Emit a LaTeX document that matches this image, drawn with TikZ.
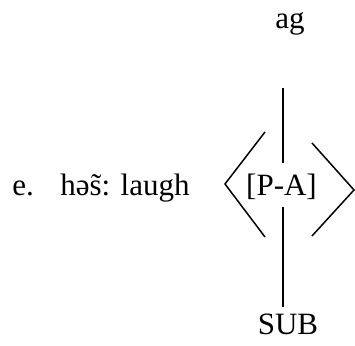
\documentclass[tikz,border=0pt]{standalone}
\usepackage{fontspec}
\setmainfont{Liberation Serif}
\begin{document}
\begin{tikzpicture}[x=0.5pt,y=-0.5pt,
  lbl/.style={inner sep=0pt,font=\fontsize{15.5}{18}\selectfont},
  ln/.style={line width=0.75pt,black},
  brk/.style={line width=0.75pt,black,line join=miter}]
\useasboundingbox (0,0) rectangle (355,346);
% texts
\node[lbl,anchor=base west] (e) at (12,196) {e.};
\node[lbl,anchor=base west] (word) at (60,196) {həs̃: laugh};
\node[lbl,anchor=base] (ag) at (290,29) {ag};
\node[lbl,anchor=base] (pa) at (281.5,196) {[P-A]};
\node[lbl,anchor=base] (sub) at (288,335) {SUB};
% vertical connectors
\coordinate (t1) at (283,88);
\coordinate (t2) at (283,163);
\coordinate (b1) at (283,207);
\coordinate (b2) at (283,307);
\draw[ln] (t1) -- (t2);
\draw[ln] (b1) -- (b2);
% angle brackets
\coordinate (lt) at (265,132);
\coordinate (lm) at (225,184);
\coordinate (lb) at (265,237);
\coordinate (rt) at (312,143);
\coordinate (rm) at (354,190);
\coordinate (rb) at (312,236);
\draw[brk] (lt) -- (lm) -- (lb);
\draw[brk] (rt) -- (rm) -- (rb);
\end{tikzpicture}
\end{document}
